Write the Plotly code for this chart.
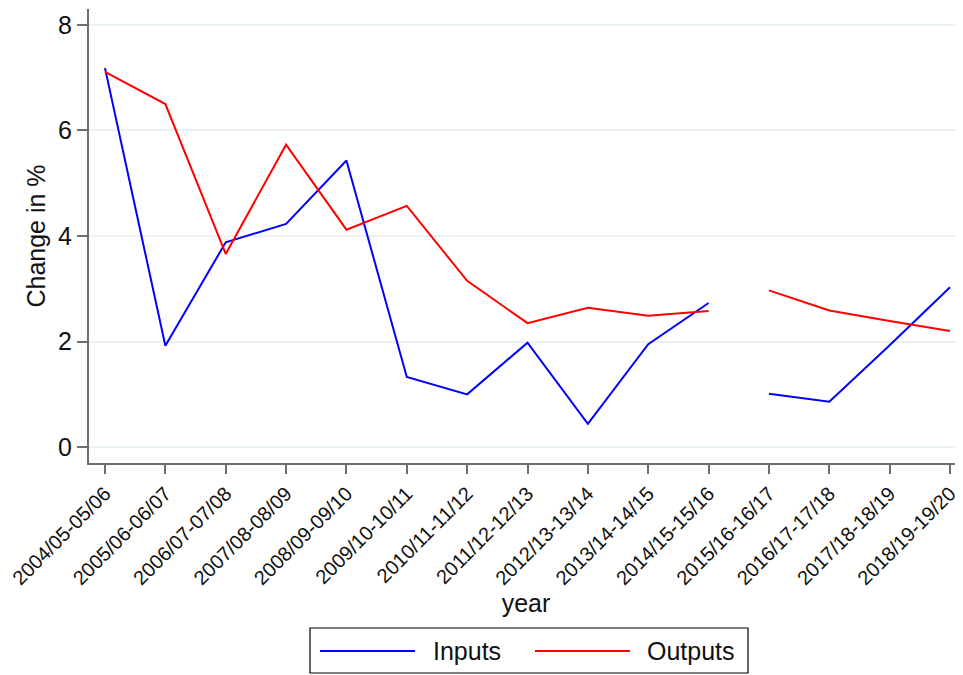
import plotly.graph_objects as go

years = ["2004/05-05/06", "2005/06-06/07", "2006/07-07/08", "2007/08-08/09",
         "2008/09-09/10", "2009/10-10/11", "2010/11-11/12", "2011/12-12/13",
         "2012/13-13/14", "2013/14-14/15", "2014/15-15/16", "2015/16-16/17",
         "2016/17-17/18", "2017/18-18/19", "2018/19-19/20"]
inputs = [7.18, 1.92, 3.88, 4.23, 5.43, 1.33, 1.00, 1.98, 0.44, 1.95, 2.73,
          1.01, 0.86, 1.93, 3.03]
outputs = [7.11, 6.50, 3.66, 5.73, 4.12, 4.57, 3.15, 2.35, 2.64, 2.49, 2.58,
           2.97, 2.59, 2.39, 2.20]
series_names = ["Inputs", "Outputs"]
series_colors = ["#0000ff", "#ff0000"]
# series is broken (missing observation) between these two positions
break_after = 10
y_ticks = [0, 2, 4, 6, 8]

def with_gap(vals):
    xs, ys = [], []
    for i, v in enumerate(vals):
        xs.append(i)
        ys.append(v)
        if i == break_after:
            xs.append(i + 0.5)
            ys.append(None)
    return xs, ys

fig = go.Figure()
for name, vals, col in zip(series_names, [inputs, outputs], series_colors):
    xs, ys = with_gap(vals)
    fig.add_trace(go.Scatter(x=xs, y=ys, mode="lines", name=name,
                             line=dict(color=col, width=2), connectgaps=False,
                             showlegend=False))

# page has an 8px body margin: work in page pixels, convert to figure pixels
OFF = 8
W, H = 963 - OFF, 675 - OFF
L, R, T, B = 89 - OFF, 0, 9 - OFF, 675 - 463
pw, ph = W - L - R, H - T - B
def px(x):
    return (x - OFF - L) / pw
def py(y):
    return (H - B - (y - OFF)) / ph

font = "Liberation Sans, Arial, sans-serif"
shapes = [dict(type="rect", xref="paper", yref="paper",
               x0=px(310), x1=px(748), y0=py(673), y1=py(628),
               line=dict(color="#000000", width=1.2), fillcolor="white")]
annotations = []
legend_items = [(320, 415, 431), (535, 630, 645)]
for (lx0, lx1, tx), name, col in zip(legend_items, series_names, series_colors):
    shapes.append(dict(type="line", xref="paper", yref="paper",
                       x0=px(lx0), x1=px(lx1), y0=py(651), y1=py(651),
                       line=dict(color=col, width=2)))
    annotations.append(dict(xref="paper", yref="paper", x=px(tx), y=py(651),
                            xanchor="left", yanchor="middle", showarrow=False,
                            text=name, font=dict(size=25, color="#111111")))

fig.update_layout(
    width=W, height=H,
    margin=dict(l=L, r=R, t=T, b=B, autoexpand=False),
    paper_bgcolor="white", plot_bgcolor="white",
    font=dict(family=font, color="#111111"),
    showlegend=False,
    shapes=shapes, annotations=annotations,
    xaxis=dict(range=[-0.265, 14.215], tickmode="array",
               tickvals=list(range(len(years))), ticktext=years,
               tickangle=-45, tickfont=dict(size=20), automargin=False,
               ticks="outside", ticklen=9, tickcolor="#6e6e6e", tickwidth=2,
               showline=True, linecolor="#6e6e6e", linewidth=2,
               showgrid=False, zeroline=False,
               title=dict(text="year", font=dict(size=25), standoff=1)),
    yaxis=dict(range=[-0.3, 8.3], tickvals=y_ticks, tickfont=dict(size=25),
               automargin=False,
               ticks="outside", ticklen=10, tickcolor="#6e6e6e", tickwidth=2,
               showline=True, linecolor="#6e6e6e", linewidth=2,
               showgrid=True, gridcolor="#eaf2f3", gridwidth=1.5, zeroline=False,
               title=dict(text="Change in %", font=dict(size=25), standoff=5)),
)

fig.write_html("out.html")
